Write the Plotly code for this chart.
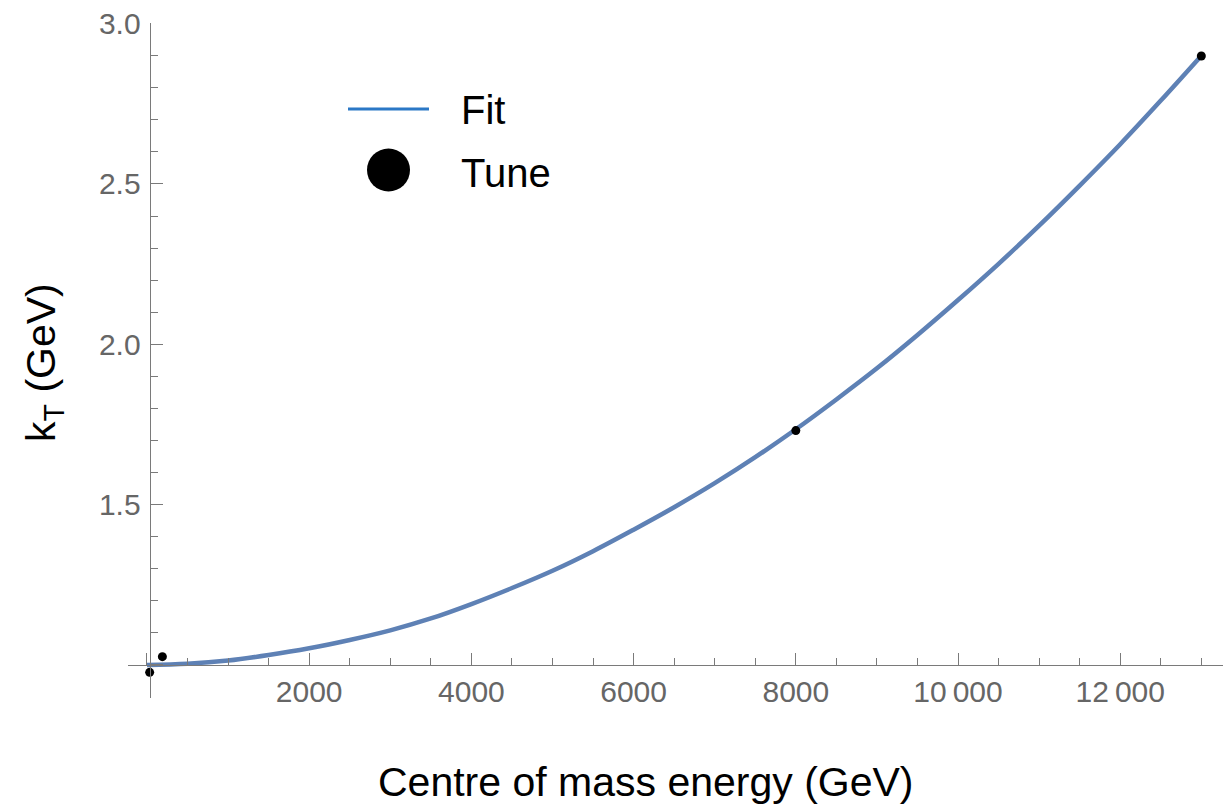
import plotly.graph_objects as go

# ---- data ----
fit_x = [0, 500, 1000, 1500, 2000, 2500, 3000, 3500, 4000, 4500, 5000, 5500, 6000,
         6500, 7000, 7500, 8000, 8500, 9000, 9500, 10000, 10500, 11000, 11500,
         12000, 12500, 13000]
fit_y = [1.000, 1.004, 1.014, 1.031, 1.052, 1.078, 1.108, 1.145, 1.190, 1.240, 1.294,
         1.355, 1.422, 1.492, 1.567, 1.648, 1.735, 1.828, 1.925, 2.029, 2.138, 2.251,
         2.370, 2.495, 2.624, 2.760, 2.900]

tune_x = [33, 190, 8000, 13000]
tune_y = [0.977, 1.026, 1.731, 2.899]

x_tickvals = [0, 2000, 4000, 6000, 8000, 10000, 12000]
x_ticktext = ["", "2000", "4000", "6000", "8000", "10\u2009000", "12\u2009000"]
y_tickvals = [1.0, 1.5, 2.0, 2.5, 3.0]
y_ticktext = ["", "1.5", "2.0", "2.5", "3.0"]

legend_labels = ["Fit", "Tune"]

# ---- layout geometry ----
W, H = 1226, 807
L, R, T, B = 128, 3, 23, 109
XR = [-234, 13267]
YR = [0.897, 3.002]
AX_X = 33     # data x where vertical axis sits
AX_Y = 1.0    # data y where horizontal axis sits

pw = W - L - R
ph = H - T - B


def px(p):
    return (p - L) / pw


def py(p):
    return (H - B - p) / ph


FONT = "Liberation Sans, Arial, Helvetica, sans-serif"
CURVE = "#5e81b5"
AXC = "#7a7a7a"
TXT = "#666666"

fig = go.Figure()
fig.add_trace(go.Scatter(x=fit_x, y=fit_y, mode="lines", line=dict(color=CURVE, width=4.5, shape="spline"),
                         showlegend=False, hoverinfo="skip"))
fig.add_trace(go.Scatter(x=tune_x, y=tune_y, mode="markers", marker=dict(color="black", size=9),
                         showlegend=False, cliponaxis=False))

minor_x = [v for v in range(0, 13001, 500) if v % 2000 != 0]
minor_y = [round(1.0 + 0.1 * i, 2) for i in range(1, 21) if (i % 5) != 0]

fig.update_layout(
    width=W, height=H,
    margin=dict(l=L, r=R, t=T, b=B),
    paper_bgcolor="white", plot_bgcolor="white",
    font=dict(family=FONT),
    xaxis=dict(range=XR, showgrid=False, zeroline=False, showline=True, linecolor=AXC, linewidth=1,
               anchor="free", position=(AX_Y - YR[0]) / (YR[1] - YR[0]),
               tickmode="array", tickvals=x_tickvals, ticktext=x_ticktext,
               ticks="inside", ticklen=12, tickcolor=AXC, tickwidth=1,
               tickfont=dict(size=30, color=TXT, family=FONT), ticklabelstandoff=0,
               minor=dict(tickmode="array", tickvals=minor_x, ticks="inside", ticklen=7,
                          tickcolor=AXC, tickwidth=1, showgrid=False)),
    yaxis=dict(range=YR, showgrid=False, zeroline=False, showline=True, linecolor=AXC, linewidth=1,
               anchor="free", position=(AX_X - XR[0]) / (XR[1] - XR[0]),
               tickmode="array", tickvals=y_tickvals, ticktext=y_ticktext,
               ticks="inside", ticklen=12, tickcolor=AXC, tickwidth=1,
               tickfont=dict(size=30, color=TXT, family=FONT), ticklabelstandoff=3,
               minor=dict(tickmode="array", tickvals=minor_y, ticks="inside", ticklen=7,
                          tickcolor=AXC, tickwidth=1, showgrid=False)),
    showlegend=False,
)

# axis titles
fig.add_annotation(xref="paper", yref="paper", x=px(645), y=py(782), text="Centre of mass energy (GeV)",
                   showarrow=False, font=dict(size=41, color="black", family=FONT),
                   xanchor="center", yanchor="middle")
fig.add_annotation(xref="paper", yref="paper", x=px(44), y=py(363), text="k<sub>T</sub> (GeV)",
                   showarrow=False, textangle=-90, font=dict(size=41, color="black", family=FONT),
                   xanchor="center", yanchor="middle")

# custom legend
fig.add_shape(type="line", xref="paper", yref="paper", x0=px(348), x1=px(429), y0=py(109), y1=py(109),
              line=dict(color="#2b78c6", width=3))
fig.add_shape(type="circle", xref="paper", yref="paper", x0=px(367), x1=px(410), y0=py(148.5), y1=py(191.5),
              fillcolor="black", line=dict(color="black", width=0))
fig.add_annotation(xref="paper", yref="paper", x=px(459), y=py(110), text=legend_labels[0], showarrow=False,
                   font=dict(size=40, color="black", family=FONT), xanchor="left", yanchor="middle")
fig.add_annotation(xref="paper", yref="paper", x=px(459), y=py(172.5), text=legend_labels[1], showarrow=False,
                   font=dict(size=40, color="black", family=FONT), xanchor="left", yanchor="middle")

fig.write_html("out.html", config={"displayModeBar": False})
